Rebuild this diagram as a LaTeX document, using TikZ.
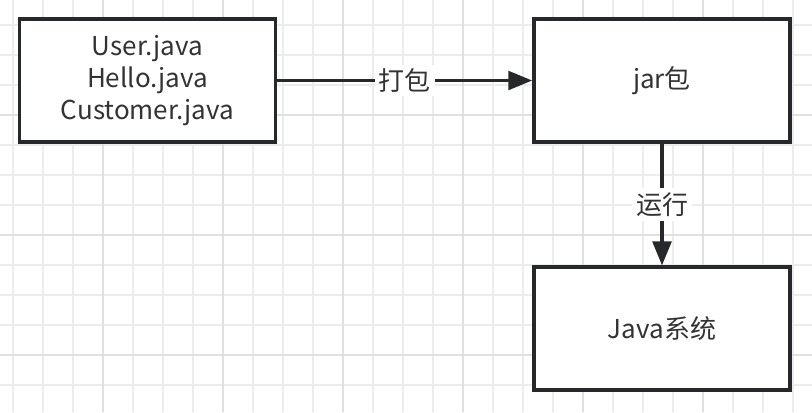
\documentclass[tikz,border=0pt]{standalone}
\usepackage{fontspec}
\setmainfont{Noto Sans CJK SC}
\usetikzlibrary{arrows.meta}
\definecolor{gridlight}{RGB}{236,236,236}
\definecolor{griddark}{RGB}{224,224,224}
\definecolor{inkgray}{RGB}{38,40,44}
\definecolor{textgray}{RGB}{51,51,51}

\begin{document}
\begin{tikzpicture}[x=0.75pt,y=-0.75pt,>={Triangle[length=18pt,width=14pt]},
    box/.style={draw=inkgray,line width=2.6pt,fill=white,minimum width=192pt,minimum height=92pt,
        text=textgray,align=center,font=\fontsize{19.5}{24}\selectfont},
    flow/.style={->,draw=inkgray,line width=2.6pt},
    tag/.style={fill=white,text=textgray,font=\fontsize{19.5}{24}\selectfont,inner sep=3pt}]
    % Background and grid
    \fill[white] (0,0) rectangle (812,412);
    \useasboundingbox (0,0) rectangle (812,412);
    \foreach \gx in {13,43,...,803}
        \draw[gridlight,line width=1pt] (\gx,0)--(\gx,412);
    \foreach \gy in {25,55,...,405}
        \draw[gridlight,line width=1pt] (0,\gy)--(812,\gy);
    \foreach \gx in {103,223,...,703}
        \draw[griddark,line width=1pt] (\gx,0)--(\gx,412);
    \foreach \gy in {115,235,355}
        \draw[griddark,line width=1pt] (0,\gy)--(812,\gy);

    % Boxes
    \node[box] (src) at (147.5,80.5) {User.java\\Hello.java\\Customer.java};
    \node[box] (jar) at (662,80.5) {jar包};
    \node[box] (sys) at (662,328.5) {Java系统};

    % Arrows
    \draw[flow] (src) -- node[tag]{打包} (jar);
    \draw[flow] (jar) -- node[tag]{运行} (sys);
\end{tikzpicture}
\end{document}
